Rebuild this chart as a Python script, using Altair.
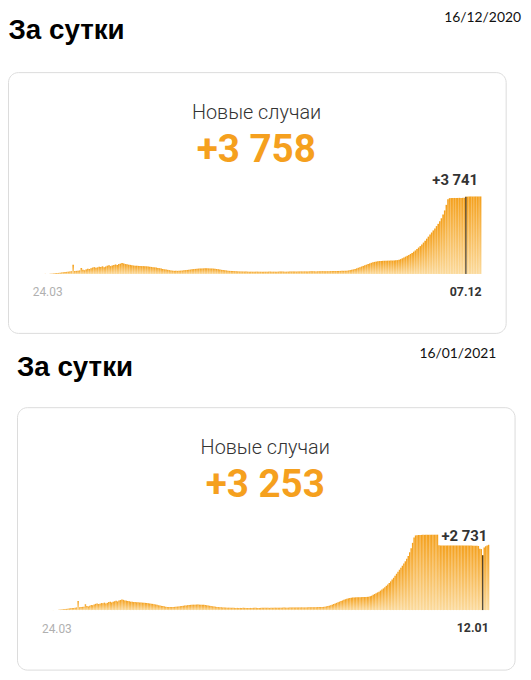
import altair as alt
import pandas as pd

# ---------------- data ----------------
# daily new cases, day 0 = 24.03.2020 ; shared history up to day 247
early_cases = [
    5, 0, 0, 10, 15, 20, 35, 45, 50, 60,
    70, 80, 90, 100, 110, 120, 130, 450, 140, 150,
    160, 170, 290, 200, 180, 220, 250, 240, 280, 310,
    330, 300, 320, 350, 340, 370, 330, 360, 400, 420,
    380, 410, 440, 460, 430, 480, 500, 530, 510, 480,
    470, 450, 440, 420, 410, 400, 400, 390, 390, 380,
    380, 370, 370, 360, 350, 340, 330, 320, 310, 290,
    280, 260, 240, 225, 210, 200, 185, 170, 160, 150,
    150, 150, 155, 160, 165, 175, 185, 195, 205, 215,
    225, 235, 245, 250, 260, 265, 270, 270, 275, 275,
    270, 270, 265, 260, 250, 240, 230, 215, 200, 190,
    180, 170, 160, 150, 145, 140, 135, 130, 125, 120,
    120, 118, 115, 115, 112, 110, 110, 108, 108, 110,
    112, 110, 108, 105, 105, 108, 110, 112, 115, 112,
    110, 108, 110, 112, 115, 118, 115, 112, 110, 112,
    115, 118, 120, 118, 115, 118, 120, 122, 125, 122,
    120, 122, 125, 128, 130, 128, 125, 128, 130, 132,
    135, 132, 130, 132, 135, 138, 140, 138, 140, 142,
    145, 148, 150, 152, 155, 160, 170, 185, 200, 220,
    245, 270, 300, 330, 360, 390, 420, 450, 480, 510,
    540, 565, 585, 600, 615, 625, 630, 635, 640, 640,
    645, 645, 650, 650, 655, 660, 670, 690, 720, 760,
    800, 840, 880, 920, 970, 1020, 1080, 1140, 1210, 1280,
    1350, 1430, 1520, 1610, 1710, 1810, 1910, 2010, 2110, 2210,
    2320, 2430, 2560, 2700, 2880, 3080, 3350, 3620,
]
# snapshot of 16/12/2020 : days 248..267
late_cases_dec = [
    3675, 3680, 3680, 3685, 3680, 3685, 3690, 3685, 3690, 3695,
    3741, 3750, 3755, 3758, 3755, 3758, 3758, 3756, 3758, 3758,
]
# snapshot of 16/01/2021 : days 248..298
late_cases_jan = [
    3720, 3735, 3740, 3745, 3745, 3748, 3750, 3750, 3752, 3752,
    3755, 3755, 3756, 3756, 3758, 3758,
    3225, 3220, 3222, 3218, 3220, 3222, 3220, 3218, 3220, 3222,
    3220, 3218, 3220, 3222, 3220, 3218, 3220, 3222, 3220, 3218,
    3220, 3215, 3212, 3210, 3208, 3205, 3200, 3195,
    3060, 3040, 2731, 3120, 3180, 3220, 3253,
]

section_title = "За сутки"
card_title = "Новые случаи"
snapshot_dates = ["16/12/2020", "16/01/2021"]
headline_values = ["+3 758", "+3 253"]
start_label = "24.03"
marker_dates = ["07.12", "12.01"]
marker_days = [258, 294]
marker_value_labels = ["+3 741", "+2 731"]
Y_MAX = 3760

cases_dec = early_cases + late_cases_dec
cases_jan = early_cases + late_cases_jan

# ---------------- styling / layout ----------------
ORANGE = "#F5A01E"
GRAD = alt.LinearGradient(
    gradient="linear",
    stops=[alt.GradientStop(offset=0, color="#F4A01C"),
           alt.GradientStop(offset=1, color="#FBDA9C")],
    x1=0, x2=0, y1=0, y2=1,
)

one = pd.DataFrame({"k": [0]})


def text_layer(txt, x, y, size, weight="normal", font="Roboto", color="#000",
               align="left", baseline="alphabetic"):
    return alt.Chart(one).mark_text(
        text=txt, font=font, fontSize=size, fontWeight=weight, color=color,
        align=align, baseline=baseline,
    ).encode(x=alt.value(x), y=alt.value(y))


def box_layer(x0, x1, y0, y1):
    return alt.Chart(one).mark_rect(
        fill="white", stroke="#dcdcdc", strokeWidth=1, cornerRadius=10
    ).encode(x=alt.value(x0), x2=alt.value(x1), y=alt.value(y0), y2=alt.value(y1))


def bars_panel(cases, mday, mlabel, xr, yr, lab_x, lab_dy, bg):
    n = len(cases)
    df = pd.DataFrame({"day": list(range(n)), "cases": cases})
    xs = alt.Scale(domain=[0, n], range=xr, nice=False, zero=False)
    ys = alt.Scale(domain=[0, Y_MAX], range=yr, nice=False, zero=False)
    base = alt.Chart(df)
    bars = base.transform_calculate(d2="datum.day + 1").mark_rect(
        color=GRAD, strokeWidth=0
    ).encode(
        x=alt.X("day:Q", scale=xs, axis=None),
        x2=alt.X2("d2:Q"),
        y=alt.Y("cases:Q", scale=ys, axis=None),
        y2=alt.datum(0),
    )
    mk = base.transform_filter(f"datum.day == {mday}").transform_calculate(
        xm="datum.day + 0.5"
    )
    rule = mk.mark_rule(color="#1e1e1e", strokeWidth=1).encode(
        x=alt.X("xm:Q", scale=xs, axis=None),
        y=alt.Y("cases:Q", scale=ys, axis=None),
        y2=alt.datum(0),
    )
    bgr = mk.mark_rect(fill="white", yOffset=bg[2], y2Offset=bg[3]).encode(
        x=alt.value(bg[0]), x2=alt.value(bg[1]),
        y=alt.Y("cases:Q", scale=ys, axis=None), y2=alt.Y2("cases:Q"),
    )
    lab = mk.mark_text(
        text=mlabel, font="Roboto", fontSize=15, fontWeight="bold", color="#333",
        align="right", baseline="alphabetic", dy=lab_dy,
    ).encode(x=alt.value(lab_x), y=alt.Y("cases:Q", scale=ys, axis=None))
    return alt.layer(bars, rule, bgr, lab)


layers = [
    # panel 1
    text_layer(section_title, 0.5, 28, 28, "bold", "Liberation Sans"),
    text_layer(snapshot_dates[0], 518, 11, 14, font="Lato", color="#111", align="right"),
    box_layer(0.5, 503, 62, 325.3),
    text_layer(card_title, 251, 108.7, 20, 300, color="#333", align="center"),
    text_layer(headline_values[0], 250.7, 152, 39, "bold", color=ORANGE, align="center"),
    text_layer(start_label, 25, 288, 12, color="#b0b0b0"),
    text_layer(marker_dates[0], 478.3, 287.5, 12.5, "bold", color="#333", align="right"),
    # panel 2
    text_layer(section_title, 9, 368.7, 28, "bold", "Liberation Sans"),
    text_layer(snapshot_dates[1], 493, 350.3, 14, font="Lato", color="#111", align="right"),
    box_layer(9.6, 512, 400.3, 665.3),
    text_layer(card_title, 259.7, 447, 20, 300, color="#333", align="center"),
    text_layer(headline_values[1], 259.8, 490.3, 39, "bold", color=ORANGE, align="center"),
    text_layer(start_label, 34.3, 627.7, 12, color="#b0b0b0"),
    text_layer(marker_dates[1], 485.4, 627, 12.5, "bold", color="#333", align="right"),
]

panel1 = bars_panel(cases_dec, marker_days[0], marker_value_labels[0],
                    [37, 478], [265.3, 187], 474.7, -12.1, (427, 477, -27, -10))
panel2 = bars_panel(cases_jan, marker_days[1], marker_value_labels[1],
                    [45, 486], [604.7, 528.5], 484, -14.1, (437, 485, -27.4, -11.4))

chart = alt.layer(*layers, panel1, panel2).resolve_scale(
    x="independent", y="independent"
).properties(
    width=520, height=667,
    autosize=alt.AutoSizeParams(type="none"),
    padding=0,
).configure_view(stroke=None)

chart.save("out.html", embed_options={"renderer": "svg", "actions": False})
